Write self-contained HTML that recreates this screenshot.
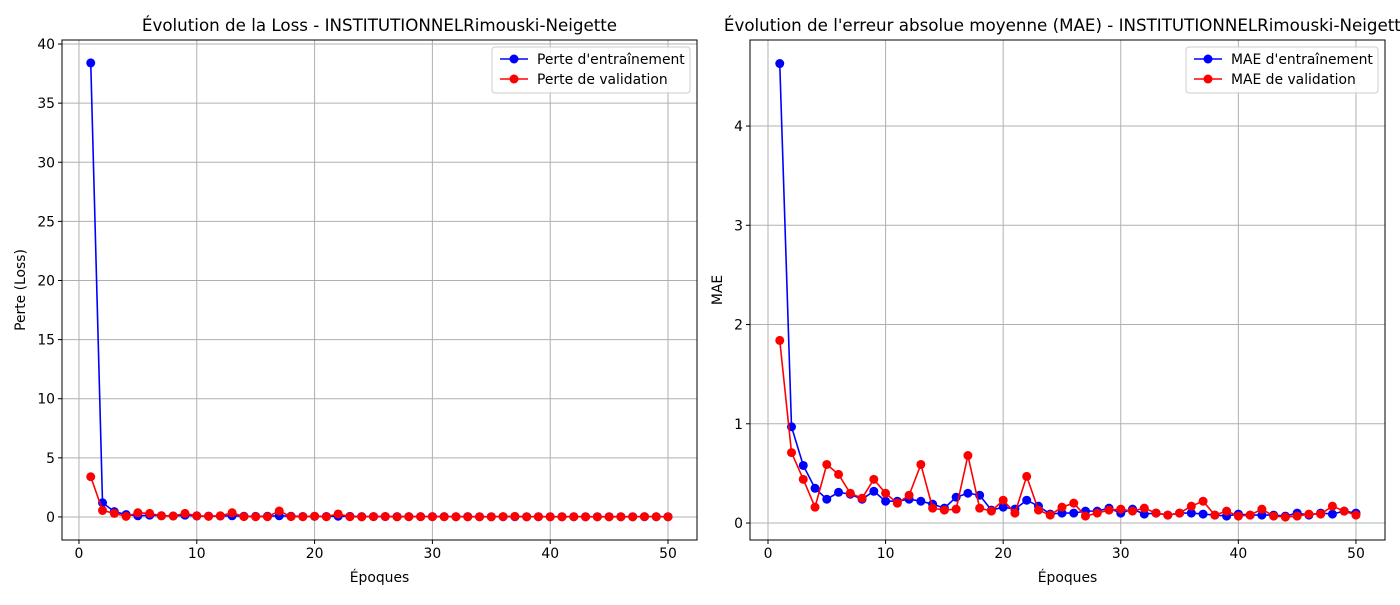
<!DOCTYPE html>
<html><head><meta charset="utf-8"><style>
body{margin:0;background:#fff;font-family:"Liberation Sans","DejaVu Sans",sans-serif}
svg text{font-family:"DejaVu Sans","Liberation Sans",sans-serif}
</style></head><body>
<svg id="c" width="1400" height="600" xmlns="http://www.w3.org/2000/svg"></svg>
<script>
const epochs = Array.from({length:50},(_,i)=>i+1);
const lossTrain = [38.4,1.2,0.45,0.2,0.1,0.15,0.1,0.08,0.15,0.08,0.07,0.08,0.1,0.06,0.05,0.06,0.1,0.06,0.04,0.05,0.04,0.06,0.05,0.03,0.03,0.03,0.03,0.03,0.03,0.03,0.03,0.02,0.03,0.02,0.02,0.02,0.02,0.02,0.02,0.02,0.02,0.02,0.02,0.02,0.02,0.02,0.02,0.02,0.02,0.02];
const lossVal = [3.4,0.55,0.3,0.05,0.35,0.3,0.1,0.08,0.3,0.1,0.05,0.1,0.35,0.03,0.02,0.02,0.5,0.03,0.02,0.06,0.02,0.25,0.02,0.01,0.03,0.04,0.01,0.02,0.02,0.02,0.02,0.02,0.01,0.01,0.01,0.03,0.05,0.01,0.02,0.01,0.01,0.02,0.01,0.01,0.01,0.01,0.01,0.03,0.02,0.01];
const maeTrain = [4.63,0.97,0.58,0.35,0.24,0.31,0.29,0.24,0.32,0.22,0.22,0.24,0.22,0.19,0.15,0.26,0.30,0.28,0.13,0.16,0.14,0.23,0.17,0.09,0.10,0.10,0.12,0.12,0.15,0.10,0.14,0.09,0.10,0.08,0.10,0.10,0.09,0.08,0.07,0.09,0.08,0.08,0.08,0.07,0.10,0.08,0.10,0.09,0.12,0.10];
const maeVal = [1.84,0.71,0.44,0.16,0.59,0.49,0.30,0.25,0.44,0.30,0.20,0.28,0.59,0.15,0.13,0.14,0.68,0.15,0.12,0.23,0.10,0.47,0.13,0.08,0.16,0.20,0.07,0.10,0.13,0.14,0.12,0.15,0.10,0.08,0.10,0.17,0.22,0.08,0.12,0.07,0.08,0.14,0.07,0.06,0.07,0.09,0.09,0.17,0.12,0.08];
const xTicks = [0,10,20,30,40,50];
const lossTicks = [0,5,10,15,20,25,30,35,40];
const maeTicks = [0,1,2,3,4];

const svg = document.getElementById('c');
const NS='http://www.w3.org/2000/svg';
function el(tag, attrs, parent, text){
  const e=document.createElementNS(NS,tag);
  for(const k in attrs) e.setAttribute(k,attrs[k]);
  if(text!==undefined) e.textContent=text;
  (parent||svg).appendChild(e); return e;
}
function panel(o){
  const g=el('g',{});
  
  
  const sx=v=>o.x0+(v-o.xmin)/(o.xmax-o.xmin)*(o.x1-o.x0);
  const sy=v=>o.y1-(v-o.ymin)/(o.ymax-o.ymin)*(o.y1-o.y0);
  xTicks.forEach(t=>{
    const x=sx(t);
    const gl=el('line',{x1:x,x2:x,y1:o.y0,y2:o.y1,stroke:'#b0b0b0','stroke-width':1},g);
    
    
    el('line',{x1:x,x2:x,y1:o.y1,y2:o.y1+4,stroke:'#000'},g);
    const tl=el('text',{x:x,y:o.y1+18,'text-anchor':'middle','font-size':13.9},g,String(t));
    
    
  });
  o.yticks.forEach(t=>{
    const y=sy(t);
    const gl=el('line',{x1:o.x0,x2:o.x1,y1:y,y2:y,stroke:'#b0b0b0','stroke-width':1},g);
    
    
    el('line',{x1:o.x0-4,x2:o.x0,y1:y,y2:y,stroke:'#000'},g);
    const tl=el('text',{x:o.x0-7,y:y+5,'text-anchor':'end','font-size':13.9},g,String(t));
    
    
  });
  [[o.s1,'#0000ff'],[o.s2,'#ff0000']].forEach(([s,c],si)=>{
    const pts=s.map((v,i)=>sx(epochs[i])+','+sy(v)).join(' ');
    const pl=el('polyline',{points:pts,fill:'none',stroke:c,'stroke-width':1.6},g);
    
    
    s.forEach((v,i)=>{
      const m=el('circle',{cx:sx(epochs[i]),cy:sy(v),r:4.5,fill:c},g);
      
      
    });
  });
  const fr=el('rect',{x:o.x0,y:o.y0,width:o.x1-o.x0,height:o.y1-o.y0,fill:'none',stroke:'#000','stroke-width':1},g);
  
  
  const ti=el('text',{x:(o.x0+o.x1)/2,y:o.y0-9,'text-anchor':'middle','font-size':16.7},g,o.title);
  
  
  const xl=el('text',{x:(o.x0+o.x1)/2,y:o.y1+42,'text-anchor':'middle','font-size':13.9},g,'Époques');
  
  
  const yl=el('text',{x:o.ylx,y:(o.y0+o.y1)/2,'text-anchor':'middle','font-size':13.9,transform:`rotate(-90 ${o.ylx} ${(o.y0+o.y1)/2})`},g,o.ylabel);
  
  
  const lg=el('g',{},g);
  
  
  el('rect',{x:o.lx,y:47,width:o.lw,height:46,rx:3,fill:'#fff','fill-opacity':0.85,stroke:'#ccc'},lg);
  [[o.l1,'#0000ff',59],[o.l2,'#ff0000',79]].forEach(([t,c,y])=>{
    const le=el('g',{},lg);
    
    
    el('line',{x1:o.lx+8,x2:o.lx+36,y1:y,y2:y,stroke:c,'stroke-width':1.6},le);
    el('circle',{cx:o.lx+22,cy:y,r:4.5,fill:c},le);
    el('text',{x:o.lx+45,y:y+5,'font-size':13.9},le,t);
  });
}
panel({name:'loss-chart',x0:62,x1:697,y0:40,y1:540,xmin:-1.44,xmax:52.46,ymin:-1.95,ymax:40.34,yticks:lossTicks,s1:lossTrain,s2:lossVal,
  title:'Évolution de la Loss - INSTITUTIONNELRimouski-Neigette',ylabel:'Perte (Loss)',ylx:25,lx:492,lw:198,l1:"Perte d'entraînement",l2:'Perte de validation'});
panel({name:'mae-chart',x0:750,x1:1385,y0:40,y1:540,xmin:-1.53,xmax:52.47,ymin:-0.171,ymax:4.867,yticks:maeTicks,s1:maeTrain,s2:maeVal,
  title:"Évolution de l'erreur absolue moyenne (MAE) - INSTITUTIONNELRimouski-Neigette",ylabel:'MAE',ylx:722,lx:1186,lw:192,l1:"MAE d'entraînement",l2:'MAE de validation'});
</script>
</body></html>
